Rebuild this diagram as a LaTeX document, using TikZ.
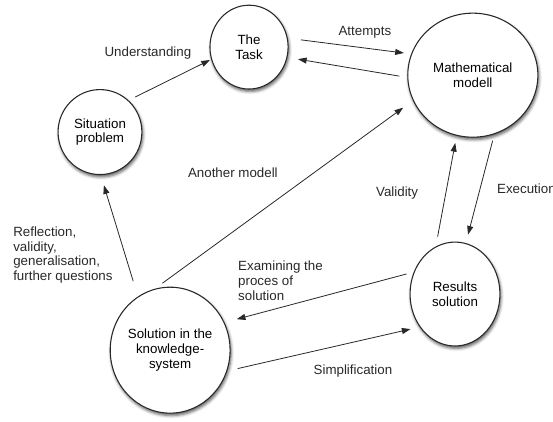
\documentclass[tikz,border=0pt]{standalone}
\usepackage{fontspec}
\setmainfont{Liberation Sans}
\usetikzlibrary{arrows.meta,positioning}
\usetikzlibrary{shapes.geometric,shadows.blur}
\definecolor{inkcolor}{RGB}{40,40,40}

\begin{document}
\begin{tikzpicture}[node distance=2cm, on grid, >={Triangle[length=6.5pt,width=4.5pt]},
    every stage/.style={ellipse,draw=inkcolor,thick,fill=white,align=center,inner sep=0pt,
      blur shadow={shadow xshift=0.8pt,shadow yshift=-1.8pt,shadow blur radius=2.2pt,shadow opacity=65}},
    note/.style={inner sep=0pt,align=left,text=inkcolor},
    every edge/.style={draw=inkcolor,line width=0.6pt}]
    \fontsize{10}{11.2}\selectfont
    \useasboundingbox (0,0) rectangle (14.58,11.10);
    \node[every stage, minimum width=2.21cm, minimum height=2.24cm] (S) at (2.636,7.618) {Situation\\problem};
    \node[every stage, minimum width=2.06cm, minimum height=2.21cm, above right=2.24cm and 3.93cm of S] (T) {The\\Task};
    \node[every stage, minimum width=3.43cm, minimum height=3.27cm, below right=0.74cm and 5.9cm of T] (M) {Mathematical\\modell};
    \node[every stage, minimum width=2.37cm, minimum height=2.74cm, below left=5.77cm and 0.47cm of M] (R) {Results\\solution};
    \node[every stage, minimum width=3.16cm, minimum height=3.32cm, below right=5.75cm and 1.85cm of S] (K) {Solution in the\\knowledge-\\system};

    % Labels
    \node[note] (Lund) at (3.90,9.70) {Understanding};
    \node[note] (Latt) at (9.62,10.25) {Attempts};
    \node[note] (Lano) at (6.14,6.54) {Another modell};
    \node[note] (Lval) at (10.47,6.01) {Validity};
    \node[note, anchor=west] (Lexe) at (13.10,6.12) {Execution};
    \node[note, anchor=west] (Lref) at (0.343,4.376) {Reflection,\\validity,\\generalisation,\\further questions};
    \node[note, anchor=west] (Lexa) at (6.274,3.69) {Examining the\\proces of\\solution};
    \node[note] (Lsim) at (9.305,1.318) {Simplification};

    \path[->] (S.48) edge[shorten <=5.5pt, shorten >=1pt] (T.198);
    \path[->] (T.13) edge[shorten <=10pt, shorten >=5.5pt] (M.161);
    \path[->] (M.182) edge[shorten <=6pt, shorten >=8pt] (T.345);
    \path[->] (K.104) edge[shorten <=7pt, shorten >=9pt] (M.203);
    \path[->] (R.112) edge[shorten <=7.5pt, shorten >=5.5pt] (M.255);
    \path[->] (M.290) edge[shorten <=5pt, shorten >=6.5pt] (R.78);
    \path[->] (K.121) edge[shorten <=12pt, shorten >=8pt] (S.271);
    \path[->] (R.152) edge[shorten <=5.5pt, shorten >=9.5pt] (K.27);
    \path[->] (K.340) edge[shorten <=8pt, shorten >=7pt] (R.223);
\end{tikzpicture}
\end{document}
